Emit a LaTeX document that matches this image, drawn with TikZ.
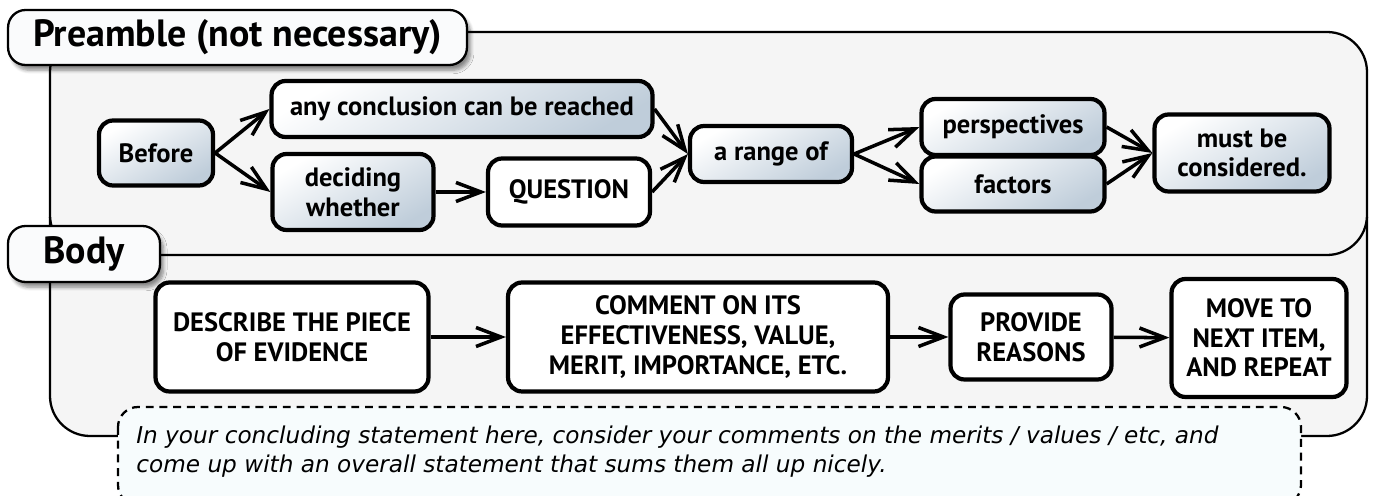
\documentclass[tikz,border=0pt]{standalone}
\usepackage{fontspec}
\setmainfont{PT Sans}
\newfontfamily\notefont{DejaVu Sans}
\usepackage{tikz}
\usetikzlibrary{shapes, arrows.meta, positioning, shadows.blur}
\definecolor{panelgray}{HTML}{F5F5F5}
\definecolor{tabwhite}{HTML}{FAFBFC}
\definecolor{nodeblue}{HTML}{BFCDDA}
\definecolor{notecyan}{HTML}{F7FCFD}
\newcommand{\boxfont}{\bfseries\fontsize{15.1}{16.8}\selectfont}
\newcommand{\tabfont}{\bfseries\fontsize{21.6}{24}\selectfont}
\tikzstyle{gnode} = [draw, rounded corners=8pt, line width=2.4pt, top color=white, bottom color=nodeblue, shading angle=30, inner sep=0pt, align=center, font=\boxfont]
\tikzstyle{wnode} = [draw, rounded corners=8pt, line width=2.4pt, fill=white, inner sep=0pt, align=center, font=\boxfont]
\tikzstyle{tab} = [draw, rounded corners=10pt, line width=1.3pt, fill=tabwhite, inner sep=0pt, blur shadow={shadow xshift=2pt, shadow yshift=-3pt, shadow blur steps=6, shadow opacity=45}, font=\tabfont]
\tikzstyle{panel} = [draw, rounded corners=0.8cm, line width=1.3pt, fill=panelgray]
\tikzstyle{notebox} = [draw, dashed, dash pattern=on 4.5pt off 3.3pt, rounded corners=0.4cm, line width=1.3pt, fill=notecyan]
\tikzstyle{line} = [draw, line width=2pt, -{Straight Barb[length=5mm, width=3.8mm]}]

\begin{document}
\begin{tikzpicture}[x=0.02cm, y=-0.02cm]
	\useasboundingbox (0,0) rectangle (1374,496);
	\clip (0,0) rectangle (1374,496);

	% panels
	\path [panel] (50,180) rectangle (1367,436);
	\path [panel] (50,32) rectangle (1367,255);
	\path [notebox] (118,407) rectangle (1301,505);

	\node [tab, minimum width=9.18cm, minimum height=1.10cm] (pretab) at (237.5,37.5) {Preamble (not necessary)};
	\node [tab, minimum width=3.04cm, minimum height=1.12cm] (bodytab) at (84,254) {Body};

	% preamble flow
	\node [gnode, minimum width=2.28cm, minimum height=1.30cm] (before) at (156,153) {Before};
	\node [gnode, minimum width=7.62cm, minimum height=1.12cm] (concl) at (462,109) {any conclusion can be reached};
	\node [gnode, minimum width=3.22cm, minimum height=1.52cm] (decide) at (353,192) {deciding\\whether};
	\node [wnode, minimum width=3.24cm, minimum height=1.34cm] (question) at (569,192) {QUESTION};
	\node [gnode, minimum width=3.24cm, minimum height=1.12cm] (range) at (771,154) {a range of};
	\node [gnode, minimum width=3.66cm, minimum height=1.12cm] (persp) at (1013,127) {perspectives};
	\node [gnode, minimum width=3.66cm, minimum height=1.10cm] (factors) at (1013,184) {factors};
	\node [gnode, minimum width=3.50cm, minimum height=1.54cm] (must) at (1242,153) {must be\\considered.};

	% body flow
	\node [wnode, minimum width=5.46cm, minimum height=2.18cm] (describe) at (292,337) {DESCRIBE THE PIECE\\OF EVIDENCE};
	\node [wnode, minimum width=7.60cm, minimum height=2.18cm] (comment) at (698,337) {COMMENT ON ITS\\EFFECTIVENESS, VALUE,\\MERIT, IMPORTANCE, ETC.};
	\node [wnode, minimum width=3.22cm, minimum height=1.70cm] (provide) at (1031,337) {PROVIDE\\REASONS};
	\node [wnode, minimum width=3.50cm, minimum height=2.36cm] (moveto) at (1259,338) {MOVE TO\\NEXT ITEM,\\AND REPEAT};

	\node [anchor=west, align=left, inner sep=0pt, font=\notefont\itshape\fontsize{13.2}{16.6}\selectfont] (note) at (136,452) {In your concluding statement here, consider your comments on the merits / values / etc, and\\come up with an overall statement that sums them all up nicely.};

	\path [line] (before.east) -- (concl.west);
	\path [line] (before.east) -- (decide.west);
	\path [line] (decide) -- (question);
	\path [line] (concl.east) -- (range.west);
	\path [line] (question.east) -- (range.west);
	\path [line] (range.east) -- (persp.west);
	\path [line] (range.east) -- (factors.west);
	\path [line] (persp.east) -- (must.west);
	\path [line] (factors.east) -- (must.west);
	\path [line] (describe) -- (comment);
	\path [line] (comment) -- (provide);
	\path [line] (provide) -- (moveto);
\end{tikzpicture}
\end{document}
